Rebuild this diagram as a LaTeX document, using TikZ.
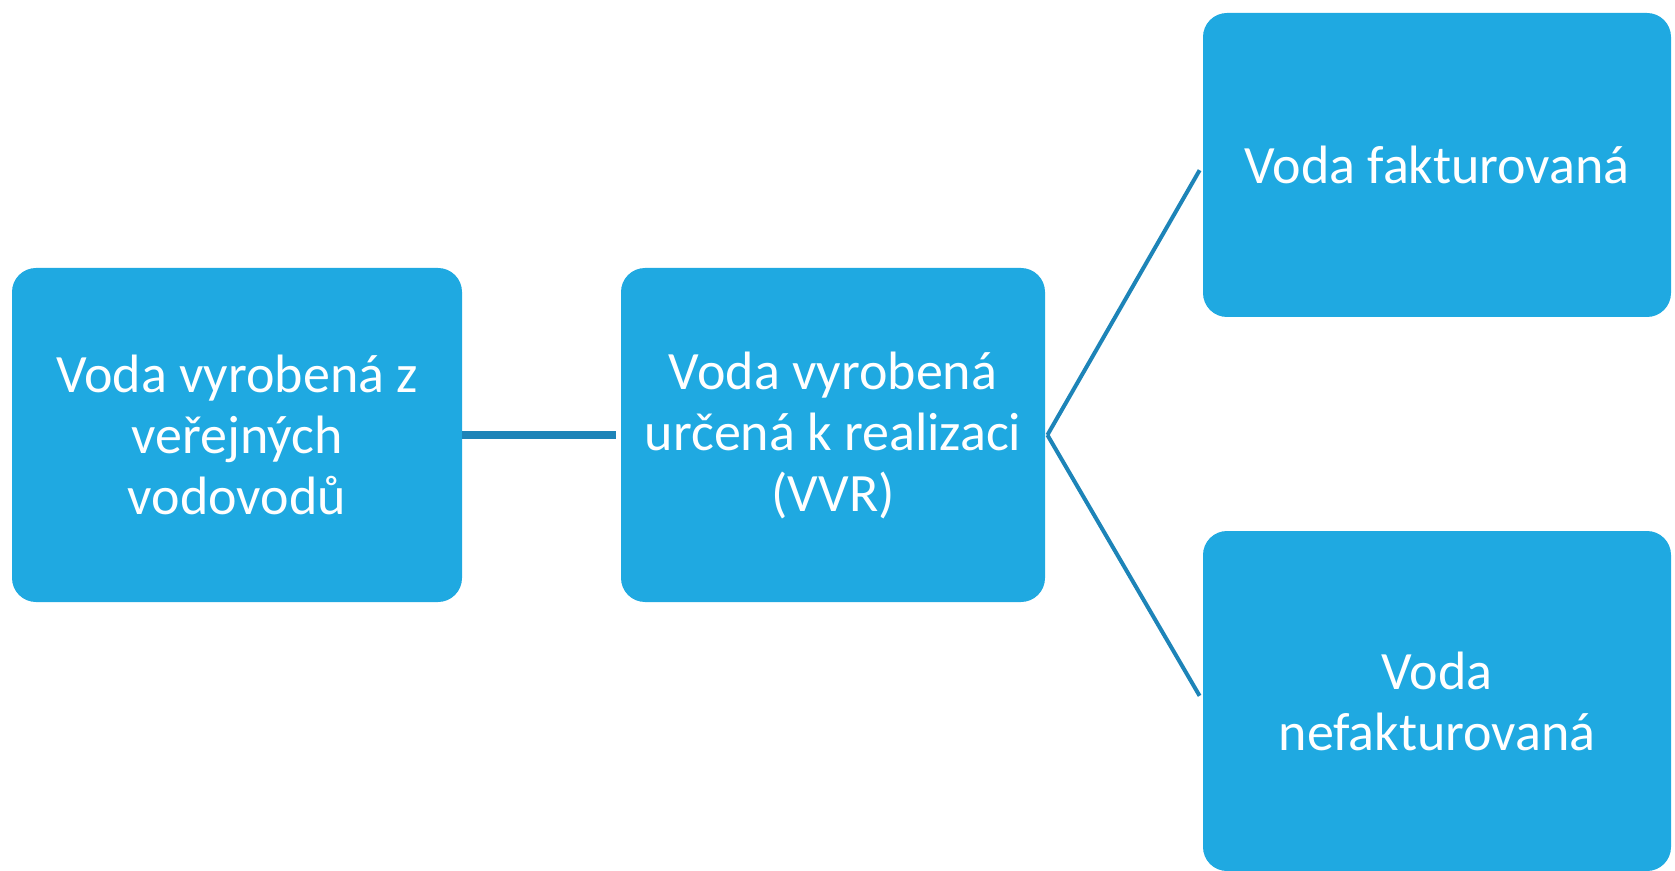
\documentclass[tikz,border=0pt]{standalone}
\usepackage{fontspec}
\setmainfont{Carlito}
\usepackage{tikz}
\usetikzlibrary{calc}
\definecolor{boxblue}{RGB}{31,169,225}
\definecolor{linkblue}{RGB}{29,132,184}

\begin{document}
\begin{tikzpicture}[x=0.5pt, y=-0.5pt,
    box/.style  = { fill=boxblue, rounded corners=12pt, text=white, inner sep=0pt,
                    align=center, font=\fontsize{27}{30.5}\selectfont },
    link/.style = { draw=linkblue, line width=2pt }]
  \tikzset{every node/.style={anchor=center}}
  \useasboundingbox (0,0) rectangle (1675,871);
  % boxes
  \node [box, minimum width=225pt, minimum height=167pt] (vyrobena) at (237,435)
    {Voda vyrobená z\\veřejných\\vodovodů};
  \node [box, minimum width=212pt, minimum height=167pt] (vvr) at (833,435)
    {Voda vyrobená\\určená k realizaci\\(VVR)};
  \node [box, minimum width=234pt, minimum height=152pt] (fakt) at (1437,165)
    {Voda fakturovaná};
  \node [box, minimum width=234pt, minimum height=170pt] (nefakt) at (1437,701)
    {Voda\\nefakturovaná};
  % connectors
  \path [link, line width=4pt] (vyrobena) edge [shorten >=2.5pt] (vvr);
  \foreach \t in {fakt, nefakt} {
    \path [link] ($(vvr.east)+(2,0)$) edge [shorten >=3pt] (\t.west);
  }
\end{tikzpicture}
\end{document}
